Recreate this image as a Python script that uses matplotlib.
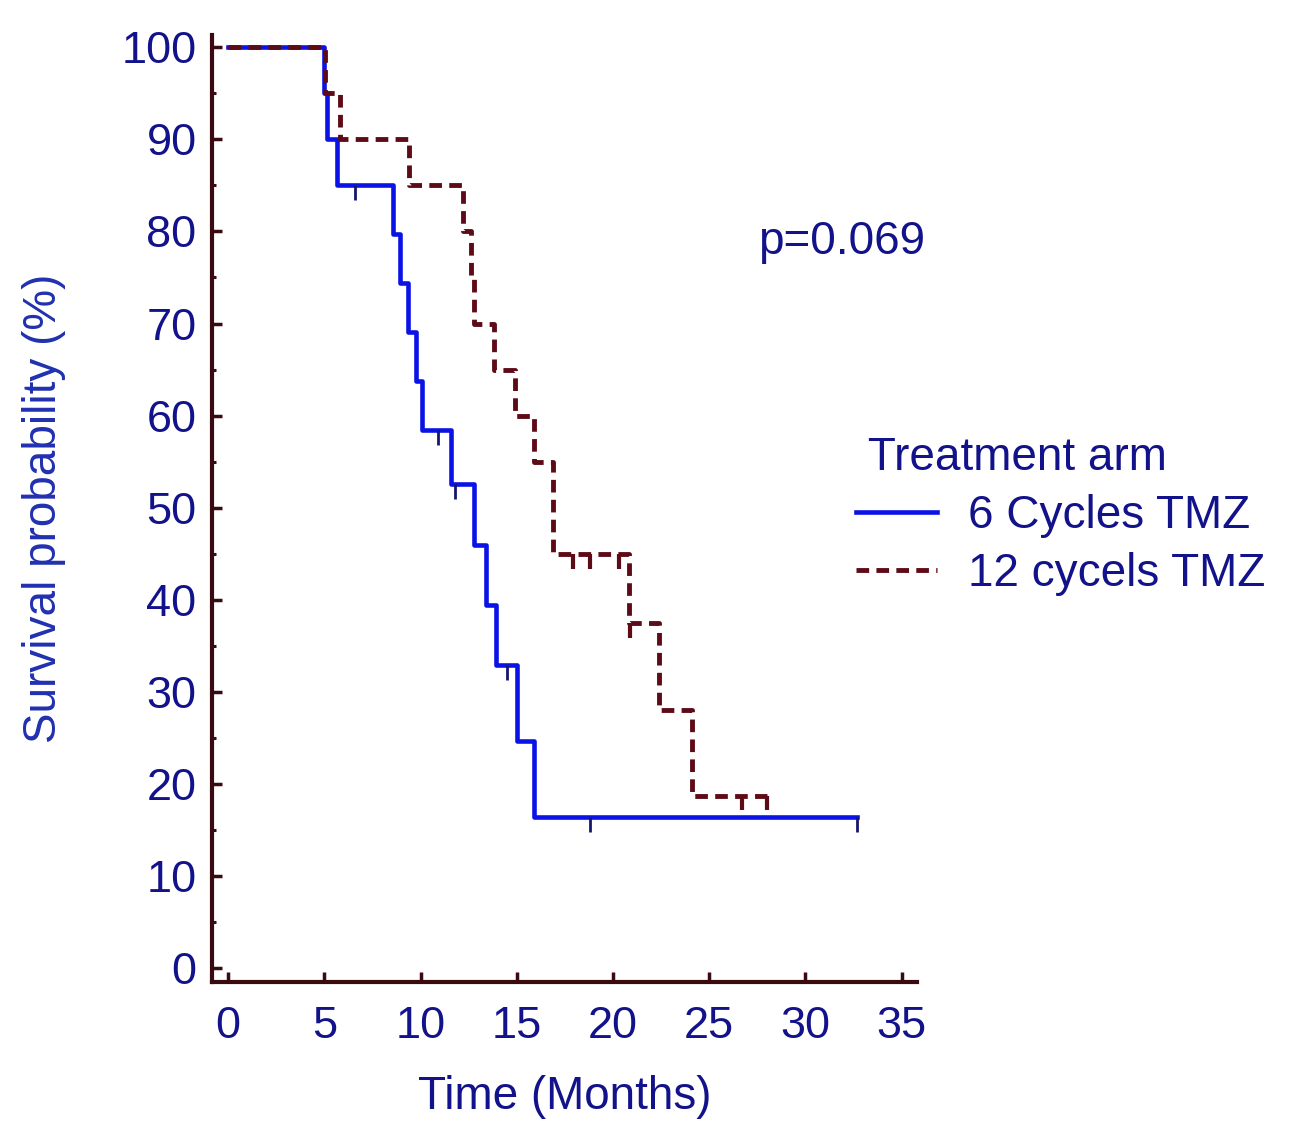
import matplotlib
matplotlib.use("Agg")
import matplotlib.pyplot as plt
from matplotlib.lines import Line2D

plt.rcParams['font.family'] = ['Liberation Sans', 'DejaVu Sans']

# ---- data ----
blue_times = [0, 5.0, 5.15, 5.65, 8.55, 8.95, 9.35, 9.75, 10.05, 11.6, 12.8, 13.4, 13.9, 15.0, 15.9, 32.7]
blue_surv = [100, 95, 90, 85, 79.7, 74.4, 69.1, 63.8, 58.4, 52.6, 46.0, 39.5, 32.9, 24.7, 16.4, 16.4]
blue_cens_t = [6.6, 10.9, 11.8, 14.5, 18.8, 32.7]
blue_cens_s = [85, 58.4, 52.6, 32.9, 16.4, 16.4]

red_times = [0, 5.05, 5.8, 9.4, 12.2, 12.6, 12.75, 13.8, 14.9, 15.9, 16.9, 20.85, 22.4, 24.1, 28.0]
red_surv = [100, 95, 90, 85, 80, 75, 70, 65, 60, 55, 45, 37.5, 28.1, 18.75, 18.75]
red_cens_t = [17.9, 18.8, 20.3, 20.9, 26.7, 28.0]
red_cens_s = [45, 45, 45, 37.5, 18.75, 18.75]

series_labels = ["6 Cycles TMZ", "12 cycels TMZ"]
legend_title = "Treatment arm"
p_text = "p=0.069"
x_ticks = [0, 5, 10, 15, 20, 25, 30, 35]
y_ticks = [0, 10, 20, 30, 40, 50, 60, 70, 80, 90, 100]

# ---- style ----
BLUE = "#0a12e6"
RED = "#5e0b18"
SPINE = "#3a0a10"
TXT = "#12128a"
YLAB = "#2030b0"
FS = 32.5

fig = plt.figure(figsize=(13.08, 11.33), dpi=100)
ax = fig.add_axes([0.162, 0.133, 0.539, 0.836])

ax.step(blue_times, blue_surv, where='post', color=BLUE, lw=3.3, zorder=3)
ax.vlines(blue_cens_t, [s - 1.6 for s in blue_cens_s], blue_cens_s, color="#16166a", lw=2.0, zorder=3)

ax.step(red_times, red_surv, where='post', color=RED, lw=3.5, dashes=(2.6, 1.5), zorder=4)
ax.vlines(red_cens_t, [s - 1.6 for s in red_cens_s], red_cens_s, color=RED, lw=3.0, zorder=4)

ax.set_xlim(-0.85, 35.8)
ax.set_ylim(-1.5, 101.3)

for side in ['top', 'right']:
    ax.spines[side].set_visible(False)
for side in ['left', 'bottom']:
    ax.spines[side].set_color(SPINE)
    ax.spines[side].set_linewidth(3.0)

ax.set_xticks(x_ticks)
ax.set_yticks(y_ticks)
ax.set_yticks([5 + 10 * i for i in range(10)], minor=True)
ax.tick_params(axis='both', which='major', direction='in', length=7, width=2.5,
               color=SPINE, labelcolor=TXT, labelsize=FS)
ax.tick_params(axis='y', which='minor', direction='in', length=3, width=2.2, color=SPINE)
ax.tick_params(axis='x', pad=17)
ax.tick_params(axis='y', pad=11)

ax.set_xlabel("Time (Months)", fontsize=33, color=TXT, labelpad=20)
ax.set_ylabel("Survival probability (%)", fontsize=33, color=YLAB, labelpad=40)

ax.text(27.55, 78.8, p_text, fontsize=33, color=TXT, ha='left', va='center')

handles = [Line2D([], [], color=BLUE, lw=3.3),
           Line2D([], [], color=RED, lw=3.5, dashes=(2.6, 1.5))]
leg = ax.legend(handles, series_labels, title=" " + legend_title, frameon=False,
                fontsize=33, title_fontsize=33, labelcolor=TXT,
                handlelength=1.77, handletextpad=0.68, labelspacing=0.3,
                alignment='left', loc='upper left',
                bbox_to_anchor=(0.913, 0.5765), borderaxespad=0, borderpad=0)
leg.get_title().set_color(TXT)

fig.savefig("out.png", dpi=100)
